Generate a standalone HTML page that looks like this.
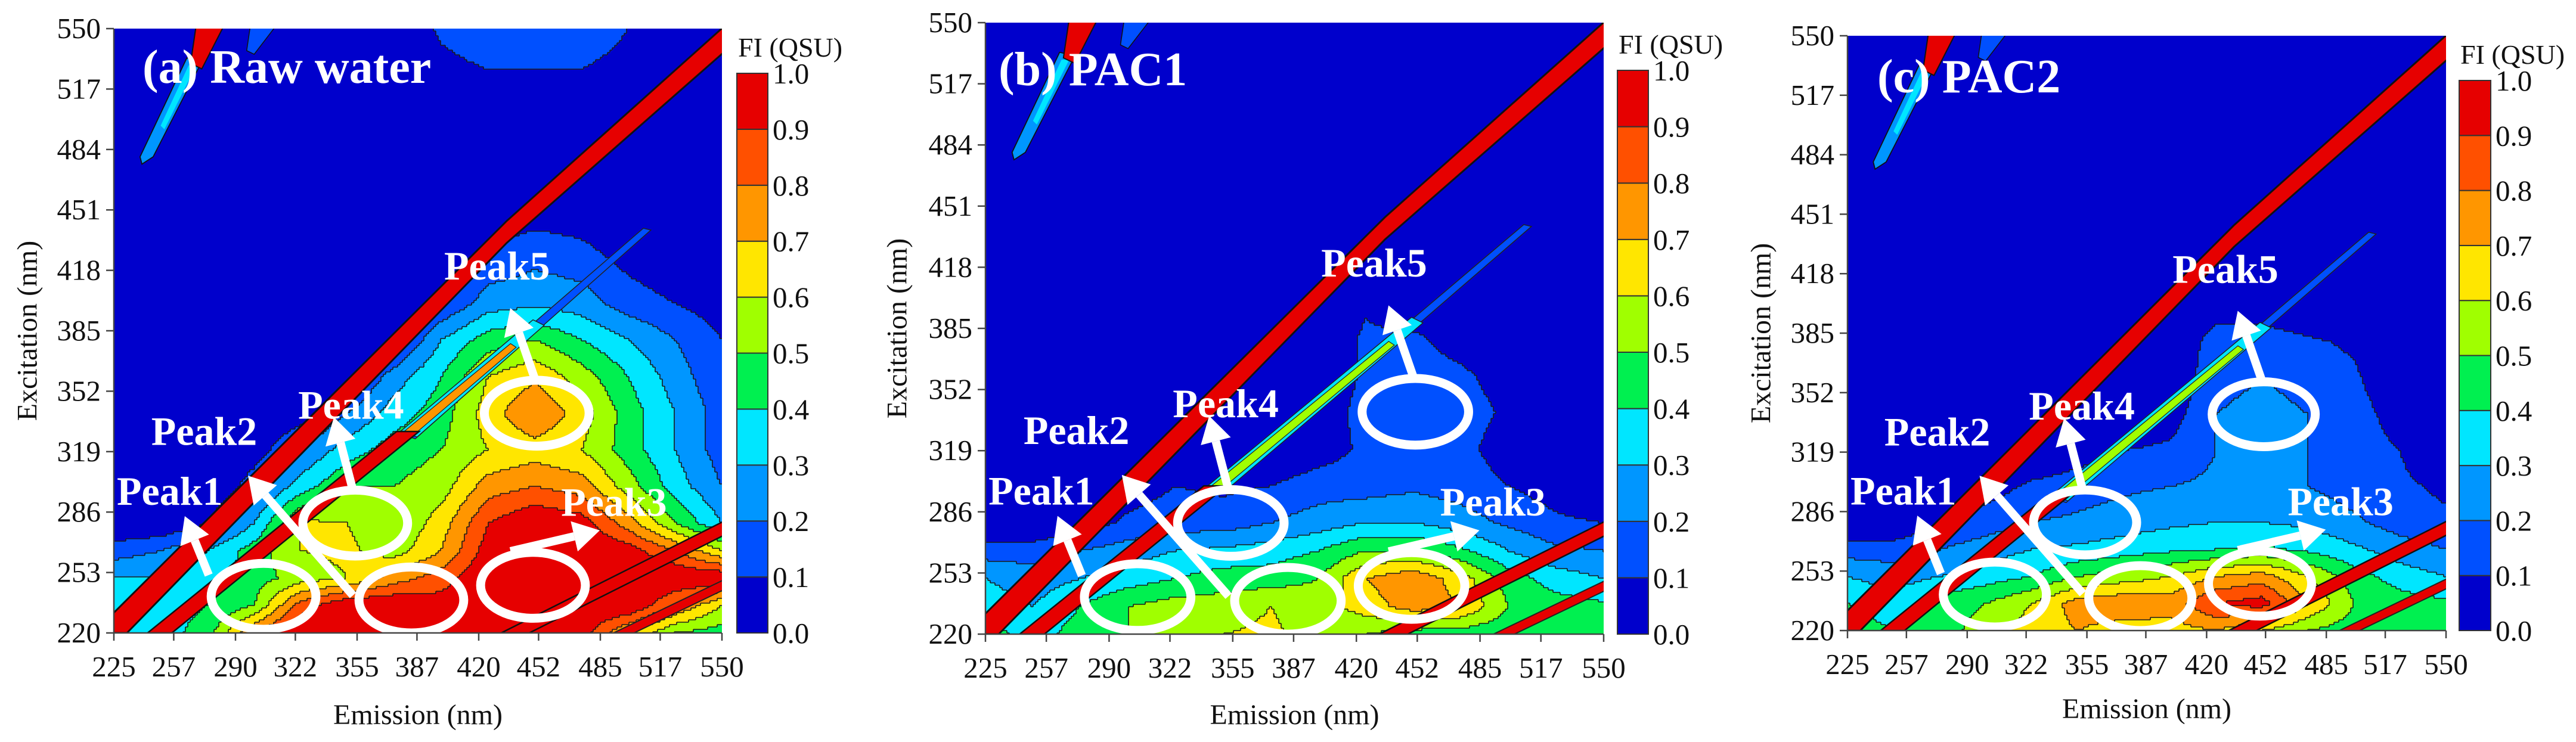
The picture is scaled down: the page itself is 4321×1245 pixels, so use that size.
<!DOCTYPE html>
<html><head><meta charset="utf-8">
<style>
html,body{margin:0;padding:0;background:#fff;}
svg{display:block;}
text{font-family:"Liberation Serif",serif;}
</style></head>
<body>
<svg id="fig" width="4321" height="1245" viewBox="0 0 4321 1245" xmlns="http://www.w3.org/2000/svg">
<rect width="4321" height="1245" fill="#fff"/>
</svg>
<script>
// ---- data ----
const EMS = [225,250,275,300,325,350,375,400,425,450,475,500,525,550];
const EXS = [220,235,250,265,280,300,320,340,360,380,400,430,460,500,550];
const X_TICKS = [225,257,290,322,355,387,420,452,485,517,550];
const Y_TICKS = [220,253,286,319,352,385,418,451,484,517,550];
const CB_TICKS = ["0.0","0.1","0.2","0.3","0.4","0.5","0.6","0.7","0.8","0.9","1.0"];
const LEVEL_COLORS = ["#0000cc","#0050ff","#0096ff","#00e6ff","#00f050","#a0ff00","#ffe600","#ff9600","#ff5000","#e60000"];
const Z0 = [0,0,0,0,0,0,0,0,0,0,0,0,0,0];
const RAW_ROWS = [
 [0.4,0.35,0.45,0.8,1,1,1,1,1,1,0.95,0.7,0.5,0.45],
 [0.4,0.35,0.4,0.5,0.85,1,1,0.95,1,1,1,1,0.8,0.6],
 [0.3,0.3,0.35,0.45,0.55,0.6,0.75,0.85,1,1,1,1,1,1],
 [0.15,0.2,0.3,0.45,0.6,0.62,0.55,0.7,0.95,1,1,0.95,0.8,0.6],
 [0,0,0.1,0.3,0.62,0.6,0.5,0.65,0.9,1,0.95,0.75,0.5,0.3],
 [0,0,0,0.15,0.35,0.5,0.5,0.55,0.75,0.8,0.75,0.55,0.35,0.2],
 [0,0,0,0.05,0.2,0.35,0.45,0.5,0.6,0.65,0.6,0.45,0.3,0.15],
 [0,0,0,0,0.05,0.2,0.35,0.45,0.65,0.8,0.65,0.45,0.3,0.15],
 [0,0,0,0,0,0.05,0.25,0.4,0.6,0.68,0.55,0.4,0.25,0.12],
 [0,0,0,0,0,0,0.05,0.3,0.45,0.5,0.4,0.3,0.2,0.1],
 [0,0,0,0,0,0,0,0.1,0.25,0.28,0.25,0.15,0.1,0.05],
 [0,0,0,0,0,0,0,0,0.1,0.15,0.12,0.05,0,0],
 Z0,
 Z0,
 [0,0,0,0,0,0,0,0.12,0.18,0.18,0.18,0.1,0,0]
];
const PAC1_ROWS = [
 [0.45,0.35,0.45,0.5,0.55,0.6,0.62,0.55,0.5,0.45,0.45,0.42,0.42,0.42],
 [0.35,0.3,0.4,0.5,0.55,0.55,0.6,0.55,0.65,0.75,0.7,0.5,0.45,0.42],
 [0.3,0.25,0.3,0.35,0.4,0.45,0.45,0.5,0.7,0.78,0.65,0.45,0.35,0.3],
 [0.15,0.15,0.2,0.25,0.3,0.32,0.35,0.4,0.5,0.5,0.42,0.3,0.22,0.2],
 [0,0,0.05,0.12,0.15,0.15,0.2,0.25,0.3,0.3,0.25,0.18,0.12,0.1],
 [0,0,0,0.05,0.1,0.08,0.1,0.15,0.15,0.18,0.15,0.1,0.05,0],
 [0,0,0,0,0,0,0,0.05,0.12,0.15,0.13,0.05,0,0],
 [0,0,0,0,0,0,0,0.02,0.15,0.18,0.15,0.08,0,0],
 [0,0,0,0,0,0,0,0,0.12,0.15,0.12,0.05,0,0],
 [0,0,0,0,0,0,0,0,0.12,0.12,0.05,0,0,0],
 [0,0,0,0,0,0,0,0,0.08,0,0,0,0,0],
 Z0,Z0,Z0,Z0
];
const PAC2_ROWS = [
 [0.45,0.4,0.45,0.55,0.65,0.7,0.65,0.65,0.7,0.6,0.5,0.45,0.42,0.42],
 [0.4,0.35,0.45,0.5,0.6,0.75,0.78,0.75,0.9,0.95,0.7,0.5,0.45,0.42],
 [0.3,0.25,0.3,0.35,0.4,0.5,0.55,0.6,0.7,0.75,0.6,0.45,0.35,0.3],
 [0.15,0.15,0.2,0.25,0.3,0.32,0.35,0.38,0.4,0.42,0.38,0.32,0.25,0.2],
 [0,0,0.1,0.15,0.2,0.22,0.25,0.28,0.3,0.3,0.28,0.22,0.15,0.12],
 [0,0,0,0.05,0.12,0.15,0.18,0.2,0.22,0.22,0.2,0.15,0.12,0.08],
 [0,0,0,0,0,0.05,0.1,0.12,0.2,0.22,0.2,0.15,0.1,0],
 [0,0,0,0,0,0,0,0.05,0.2,0.22,0.2,0.15,0.05,0],
 [0,0,0,0,0,0,0,0,0.18,0.2,0.18,0.12,0,0],
 [0,0,0,0,0,0,0,0,0.15,0.15,0.12,0.08,0,0],
 [0,0,0,0,0,0,0,0,0.05,0.05,0,0,0,0],
 Z0,Z0,Z0,Z0
];
const PEAK_NAMES = ["Peak1","Peak2","Peak3","Peak4","Peak5"];
const PEAK_EM = [305,384,449,354,451];
const PEAK_EX = [240,238,246,280,340];
const LABEL_EM = [226.6,245,464,323.5,401.5];
const LABEL_EX = [290,322.6,284,337,413];
const ARROW_FROM_EM = [275.7,352.8,437,352.8,450];
const ARROW_FROM_EX = [251.6,240.5,264.6,297.8,358.7];
const ARROW_TO_EM = [262.9,296.7,484.7,342.6,436.9];
const ARROW_TO_EX = [283.8,305.9,276,337.8,397.4];

const PANELS = [
 {id:"a", title:"(a) Raw water", rows:RAW_ROWS, band2End:330, streakColor:"#ff9600", plot:{x0:191,x1:1211,y0:48,y1:1062}, cb:{x0:1236,x1:1288,y0:123,y1:1062}, tx:239, ty:139, ytx:46, xty:1215},
 {id:"b", title:"(b) PAC1", rows:PAC1_ROWS, band2End:300, streakColor:"#a0ff00", plot:{x0:1653,x1:2690,y0:38,y1:1064}, cb:{x0:2713,x1:2765,y0:118,y1:1064}, tx:1675, ty:143, ytx:1505, xty:1215},
 {id:"c", title:"(c) PAC2", rows:PAC2_ROWS, band2End:295, streakColor:"#a0ff00", plot:{x0:3099,x1:4103,y0:60,y1:1058}, cb:{x0:4125,x1:4178,y0:135,y1:1058}, tx:3149, ty:155, ytx:2954, xty:1205}
];

const NS = "http://www.w3.org/2000/svg";
const svg = document.getElementById("fig");
function mk(tag, attrs, parent){
  const e = document.createElementNS(NS, tag);
  for (const k in attrs) e.setAttribute(k, attrs[k]);
  (parent||svg).appendChild(e);
  return e;
}
function seg(arr, v){
  let i = 0;
  while (i < arr.length-2 && v > arr[i+1]) i++;
  return i;
}
function sample(rows, em, ex){
  em = Math.max(225, Math.min(550, em)); ex = Math.max(220, Math.min(550, ex));
  const i = seg(EMS, em), j = seg(EXS, ex);
  const tx = (em-EMS[i])/(EMS[i+1]-EMS[i]), ty = (ex-EXS[j])/(EXS[j+1]-EXS[j]);
  const a = rows[j][i], b = rows[j][i+1], c = rows[j+1][i], d = rows[j+1][i+1];
  return a*(1-tx)*(1-ty) + b*tx*(1-ty) + c*(1-tx)*ty + d*tx*ty;
}
function level(v){ return Math.max(0, Math.min(9, Math.floor(v*10+1e-9))); }

PANELS.forEach(function(P){
  const p = P.plot;
  const xS = em => p.x0 + (em-225)/(550-225)*(p.x1-p.x0);
  const yS = ex => p.y1 - (ex-220)/(550-220)*(p.y1-p.y0);
  const xInv = px => 225 + (px-p.x0)/(p.x1-p.x0)*325;
  const yInv = py => 220 + (p.y1-py)/(p.y1-p.y0)*330;
  const kx = (p.x1-p.x0)/325, ky = (p.y1-p.y0)/330;

  const g = mk("g", {});
  
  

  const clip = mk("clipPath", {id:"clip-"+P.id}, g);
  mk("rect", {x:p.x0, y:p.y0, width:p.x1-p.x0, height:p.y1-p.y0}, clip);

  const plotG = mk("g", {"clip-path":"url(#clip-"+P.id+")"}, g);
  
  
  mk("rect", {x:p.x0, y:p.y0, width:p.x1-p.x0, height:p.y1-p.y0, fill:LEVEL_COLORS[0]}, plotG);

  const cs = 4;
  const grid = [];
  for (let py = p.y0; py < p.y1; py += cs){
    const ex = yInv(py + cs/2);
    const row = [];
    for (let px = p.x0; px < p.x1; px += cs) row.push(level(sample(P.rows, xInv(px+cs/2), ex)));
    grid.push(row);
  }
  let pathD = "";
  grid.forEach(function(row, r){
    const py = p.y0 + r*cs;
    let start = 0;
    for (let c = 1; c <= row.length; c++){
      if (c === row.length || row[c] !== row[start]){
        if (row[start] > 0){
          const rc = mk("rect", {x:p.x0+start*cs, y:py, width:(c-start)*cs+0.6, height:cs+0.6, fill:LEVEL_COLORS[row[start]]}, plotG);
          
          
        }
        if (c < row.length) pathD += "M"+(p.x0+c*cs)+" "+py+"v"+cs;
        start = c;
      }
    }
    if (r > 0){
      const prev = grid[r-1];
      for (let c = 0; c < row.length; c++){
        if (row[c] !== prev[c]){
          let e = c;
          while (e+1 < row.length && row[e+1] !== prev[e+1]) e++;
          pathD += "M"+(p.x0+c*cs)+" "+py+"h"+((e-c+1)*cs);
          c = e;
        }
      }
    }
  });
  const cl = mk("path", {d:pathD, stroke:"#1a1a1a", "stroke-width":1.6, fill:"none"}, plotG);
  
  

  function poly(pts, fill, stroke, sw){
    const s = pts.map(q => xS(q[0]).toFixed(1)+","+yS(q[1]).toFixed(1)).join(" ");
    return mk("polygon", {points:s, fill:fill, stroke:stroke||"none", "stroke-width":sw||0}, plotG);
  }
  // thin streak beyond second band
  const e2 = P.band2End, c2 = 249 + 1.21*(e2-220);
  let st = poly([[c2-2,e2-2],[c2+4,e2-4],[512,440],[508,441]], "#0050ff", "#222", 1.5);
  
  
  let st2 = poly([[c2-4,e2],[c2+5,e2-3],[455,388],[449,391]], "#00e6ff", "#222", 1.5);
  
  
  let st3 = poly([[c2-2,e2],[c2+3,e2-2],[440,376],[437,378]], P.streakColor, "#222", 1.2);
  
  
  // first-order scatter band
  let b1 = poly([[222,228],[435,445],[552,552],[552,538],[435,433],[232,220],[222,220]], "#e60000", "#111", 3);
  
  
  // second band (lower, parallel)
  let b2 = poly([[243,220],[256,220],[c2+6,e2],[c2-6,e2]], "#e60000", "#111", 2.5);
  
  
  // second-order band
  let b3 = poly([[432,220],[447,220],[566,281],[551,281]], "#e60000", "#111", 2.5);
  
  
  let b4 = poly([[488,218],[499,218],[562,249],[551,249]], "#e60000", "#222", 2);
  
  
  // top-left half-order band and streak
  let b5 = poly([[264,534],[272,532],[246,480],[240,476],[239,480]], "#0096ff", "#111", 1.8);
  
  
  let b5b = poly([[265,530],[269,530],[252,495],[250,497]], "#00e6ff", "none", 0);
  
  
  let b6 = poly([[269,552],[284,552],[272,528],[266,531]], "#e60000", "#111", 2);
  
  
  let b7 = poly([[298,552],[312,552],[300,536],[296,538]], "#0050ff", "#111", 1.5);
  
  

  // annotations
  const ann = mk("g", {}, g);
  
  
  PEAK_NAMES.forEach(function(nm, i){
    const el = mk("ellipse", {cx:xS(PEAK_EM[i]), cy:yS(PEAK_EX[i]), rx:28*kx, ry:18*ky, fill:"none", stroke:"#fff", "stroke-width":15}, ann);
    
    
    const x1 = xS(ARROW_FROM_EM[i]), y1 = yS(ARROW_FROM_EX[i]), x2 = xS(ARROW_TO_EM[i]), y2 = yS(ARROW_TO_EX[i]);
    const dx = x2-x1, dy = y2-y1, L = Math.hypot(dx,dy), ux = dx/L, uy = dy/L;
    const hl = 44, hw = 26;
    const bx = x2-ux*hl, by = y2-uy*hl;
    const sh = mk("line", {x1:x1, y1:y1, x2:bx, y2:by, stroke:"#fff", "stroke-width":14}, ann);
    
    
    const hd = mk("polygon", {points:[x2,y2, bx-uy*hw,by+ux*hw, bx+uy*hw,by-ux*hw].map(v=>v.toFixed(1)).join(","), fill:"#fff"}, ann);
    
    
    const t = mk("text", {x:xS(LABEL_EM[i]), y:yS(LABEL_EX[i]), fill:"#fff", "font-size":68, "font-weight":"bold"}, ann);
    t.textContent = nm;
    
    
  });

  const title = mk("text", {x:P.tx, y:P.ty, fill:"#fff", "font-size":80, "font-weight":"bold"}, g);
  title.textContent = P.title;
  
  

  // axes
  const ax = mk("g", {stroke:"#444", "stroke-width":2.5}, g);
  
  
  mk("line", {x1:p.x0, y1:p.y0, x2:p.x0, y2:p.y1}, ax);
  mk("line", {x1:p.x0, y1:p.y1, x2:p.x1, y2:p.y1}, ax);
  X_TICKS.forEach(function(v){
    const x = xS(v);
    mk("line", {x1:x, y1:p.y1, x2:x, y2:p.y1+13}, ax);
    const t = mk("text", {x:x, y:p.y1+73, "font-size":49, "text-anchor":"middle", fill:"#111"}, g);
    t.textContent = v;
    
    
  });
  Y_TICKS.forEach(function(v){
    const y = yS(v);
    mk("line", {x1:p.x0-13, y1:y, x2:p.x0, y2:y}, ax);
    const t = mk("text", {x:p.x0-22, y:y+16, "font-size":49, "text-anchor":"end", fill:"#111"}, g);
    t.textContent = v;
    
    
  });
  const xt = mk("text", {x:(p.x0+p.x1)/2, y:P.xty, "font-size":48, "text-anchor":"middle", fill:"#111"}, g);
  xt.textContent = "Emission (nm)";
  
  
  const yc = (p.y0+p.y1)/2;
  const yt = mk("text", {x:P.ytx, y:yc, "font-size":48, "text-anchor":"middle", fill:"#111", "dominant-baseline":"central", transform:"rotate(-90 "+P.ytx+" "+yc+")"}, g);
  yt.textContent = "Excitation (nm)";
  
  

  // colorbar
  const cb = P.cb, seg10 = (cb.y1-cb.y0)/10;
  const cbg = mk("g", {}, g);
  
  
  LEVEL_COLORS.forEach(function(col, i){
    const r = mk("rect", {x:cb.x0, y:cb.y1-(i+1)*seg10, width:cb.x1-cb.x0, height:seg10, fill:col, stroke:"#333", "stroke-width":2}, cbg);
    
    
  });
  CB_TICKS.forEach(function(lab, i){
    const t = mk("text", {x:cb.x1+8, y:cb.y1-i*seg10+17, "font-size":49, fill:"#111"}, cbg);
    t.textContent = lab;
    
    
  });
  const ct = mk("text", {x:cb.x0+2, y:cb.y0-28, "font-size":46, fill:"#111"}, cbg);
  ct.textContent = "FI (QSU)";
  
  
});
</script>
</body></html>
